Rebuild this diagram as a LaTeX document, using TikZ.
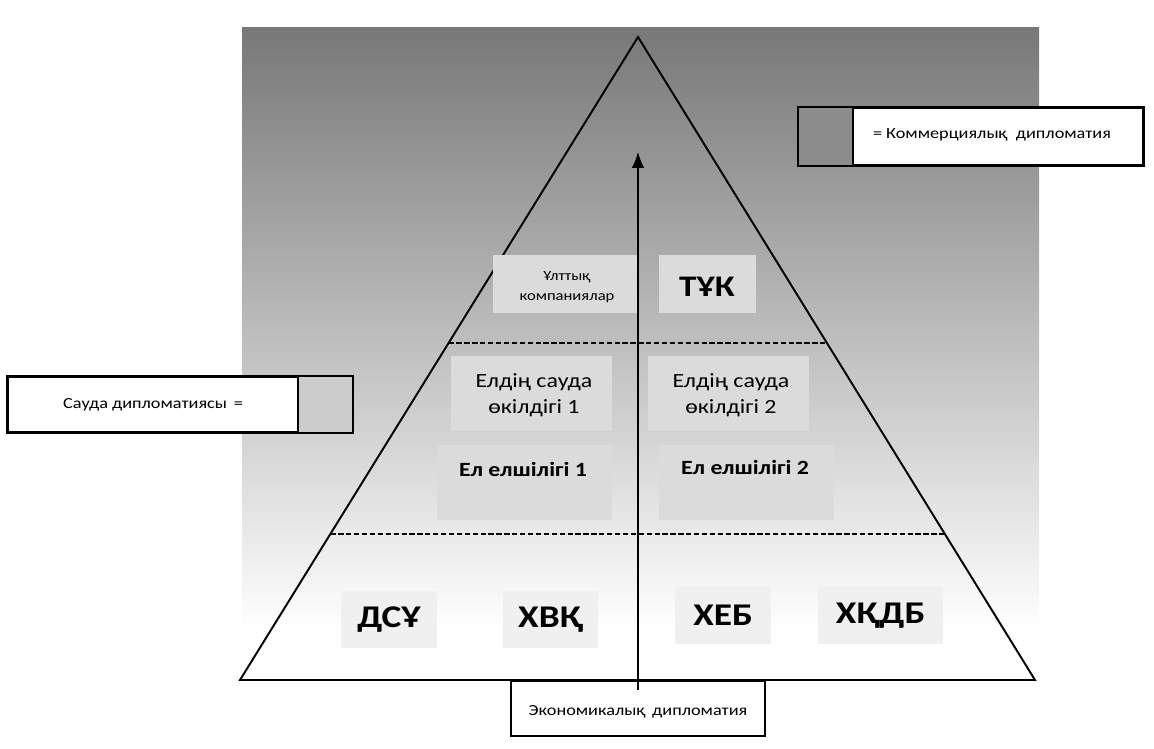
\documentclass[tikz,border=0pt]{standalone}
\usepackage{fontspec}
\setmainfont[FakeStretch=1.18]{Carlito}
\usetikzlibrary{calc,arrows.meta}

\tikzset{
  cell/.style={fill=black!14, inner sep=0pt},
  lowcell/.style={fill=black!6, inner sep=0pt},
  framebox/.style={draw, line width=1.2pt, fill=white, inner sep=0pt},
  abbr/.style={font=\bfseries\fontsize{18}{20}\selectfont},
  note/.style={font=\fontsize{8.8}{10}\selectfont},
  mid/.style={font=\fontsize{11.5}{15}\selectfont, align=center},
}

\begin{document}
\begin{tikzpicture}[x=0.02cm, y=-0.02cm]
  \useasboundingbox (0,0) rectangle (1154,749);
  % background
  \shade[top color=black!53, bottom color=white] (242,28) rectangle (1039,630);

  % pyramid
  \coordinate (apex) at (638,37);
  \coordinate (bl) at (240,680);
  \coordinate (br) at (1035,680);
  \draw[line width=1.1pt] (apex) -- (bl) -- (br) -- cycle;
  \coordinate (up l) at ($(apex)!0.476!(bl)$);
  \coordinate (up r) at ($(apex)!0.476!(br)$);
  \coordinate (low l) at ($(apex)!0.773!(bl)$);
  \coordinate (low r) at ($(apex)!0.773!(br)$);
  \draw[line width=1.1pt, dash pattern=on 3pt off 1.5pt] (up l) -- (up r);
  \draw[line width=1.1pt, dash pattern=on 3pt off 1.5pt] (low l) -- (low r);

  % top level
  \node[cell, minimum width=2.88cm, minimum height=1.16cm] (nat) at (565,284) {};
  \node[note, font=\fontsize{8}{11}\selectfont, align=center] (nat t) at (567,287) {Ұлттық\\компаниялар};
  \node[cell, minimum width=1.94cm, minimum height=1.16cm] (tnc) at (707.5,284) {};
  \node[font=\bfseries\fontsize{17}{20}\selectfont] (tnc t) at (707,287) {ТҰК};

  % middle level
  \node[cell, minimum width=3.22cm, minimum height=1.5cm] (rep1) at (531.5,393.5) {};
  \node[mid] (rep1 t) at (534,395) {Елдің сауда\\өкілдігі 1};
  \node[cell, minimum width=3.22cm, minimum height=1.5cm] (rep2) at (728.5,393.5) {};
  \node[mid] (rep2 t) at (731,395) {Елдің сауда\\өкілдігі 2};
  \node[cell, minimum width=3.5cm, minimum height=1.5cm] (emb1) at (524.5,482.5) {};
  \node[mid, font=\bfseries\fontsize{11.5}{15}\selectfont] (emb1 t) at (523,469) {Ел елшілігі 1};
  \node[cell, minimum width=3.5cm, minimum height=1.5cm] (emb2) at (746.5,482.5) {};
  \node[mid, font=\bfseries\fontsize{11.5}{15}\selectfont] (emb2 t) at (745,467) {Ел елшілігі 2};

  % bottom level
  \node[lowcell, abbr, minimum width=1.92cm, minimum height=1.14cm] (wto) at (389,619.5) {ДСҰ};
  \node[lowcell, abbr, minimum width=1.9cm, minimum height=1.14cm] (imf) at (550.5,619.5) {ХВҚ};
  \node[lowcell, abbr, minimum width=1.92cm, minimum height=1.14cm] (ebrd) at (723,615.5) {ХЕБ};
  \node[lowcell, abbr, minimum width=2.5cm, minimum height=1.14cm] (ibrd) at (880.5,615.5) {ХҚДБ};

  % legends
  \node[framebox, minimum width=6.88cm, minimum height=1.1cm] (trade) at (180,404.5) {};
  \fill[black!20] (298,377) rectangle (352,432);
  \draw[line width=1.2pt] (trade.north west) rectangle (trade.south east) (298,377) -- (298,432);
  \node[note] (trade t) at (153,405) {Сауда дипломатиясы \,=};

  \node[framebox, minimum width=6.88cm, minimum height=1.14cm] (comm) at (971,136.5) {};
  \fill[black!45] (799,108) rectangle (853,165);
  \draw[line width=1.2pt] (comm.north west) rectangle (comm.south east) (853,108) -- (853,165);
  \node[note] (comm t) at (992,135) {= Коммерциялық \ дипломатия};

  \node[framebox, minimum width=5.08cm, minimum height=1.1cm] (econ) at (638,708.5) {};
  \node[note] (econ t) at (638,712) {Экономикалық \,дипломатия};

  % arrow
  \coordinate (arr base) at (638,690);
  \coordinate (arr tip) at (638,152);
  \draw[line width=0.8pt, -{Latex[length=9pt,width=7pt]}] (arr base) -- (arr tip);
\end{tikzpicture}
\end{document}
